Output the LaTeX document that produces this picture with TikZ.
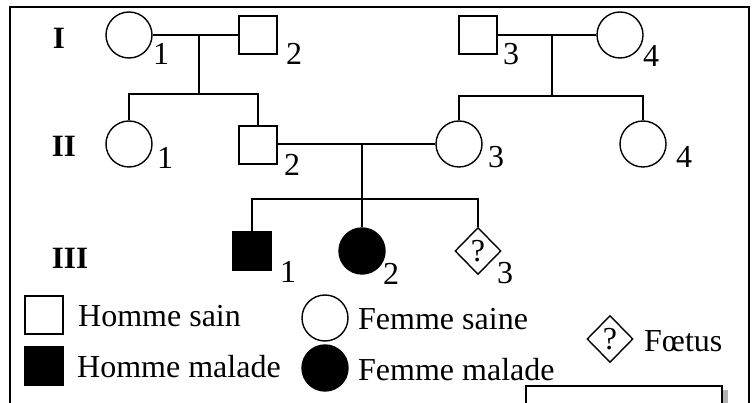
\documentclass[tikz,border=0pt]{standalone}
\usepackage{fontspec}
\setmainfont{Liberation Serif}
\usetikzlibrary{shapes.geometric}
\begin{document}
\begin{tikzpicture}[x=1pt,y=-1pt,
  lw/.style={line width=1.4pt},
  fem/.style={circle,draw,lw,minimum size=46pt,inner sep=0pt},
  mal/.style={rectangle,draw,lw,minimum size=38pt,inner sep=0pt},
  fetus/.style={diamond,draw,lw,minimum width=46pt,minimum height=47pt,inner sep=0pt,font=\fontsize{32}{34}\selectfont},
  aff/.style={fill=black},
  num/.style={inner sep=0pt,font=\fontsize{32}{34}\selectfont},
  gen/.style={inner sep=0pt,font=\fontsize{31}{33}\selectfont\bfseries},
  txt/.style={inner sep=0pt,anchor=west,font=\fontsize{32}{34}\selectfont},
  link/.style={lw}]
\useasboundingbox (0,0) rectangle (756,403);
% frame
\draw[line width=1.6pt] (10,412) -- (10,7) -- (749,7) -- (749,412);
\draw[line width=1.2pt] (526,412) -- (526,386) -- (722,386) -- (722,412);
\fill[gray!60] (722.6,390) rectangle (728,412);

% generation labels
\node[gen] (gI) at (59,38) {I};
\node[gen] (gII) at (64,146) {II};
\node[gen] (gIII) at (70,258) {III};

% generation I
\node[fem] (I1) at (129,35) {};
\node[mal] (I2) at (258,35) {};
\node[mal] (I3) at (478,35) {};
\node[fem] (I4) at (620,35) {};
\node[num] (nI1) at (161,54) {1};
\node[num] (nI2) at (294,54) {2};
\node[num] (nI3) at (511,54) {3};
\node[num] (nI4) at (651,56) {4};

% generation II
\node[fem] (II1) at (129,144) {};
\node[mal] (II2) at (258,145) {};
\node[fem] (II3) at (459,144) {};
\node[fem] (II4) at (643,144) {};
\node[num] (nII1) at (165,158) {1};
\node[num] (nII2) at (292,165) {2};
\node[num] (nII3) at (496,157) {3};
\node[num] (nII4) at (684,157) {4};

% generation III
\node[mal,aff,minimum size=39pt] (III1) at (252,251) {};
\node[fem,aff] (III2) at (362,251) {};
\node[fetus] (III3) at (478,251) {?};
\node[num] (nIII1) at (288,272) {1};
\node[num] (nIII2) at (391,274) {2};
\node[num] (nIII3) at (505,273) {3};

% family I1 x I2
\coordinate (m1) at (199,35);
\coordinate (s1) at (199,94);
\draw[link] (I1) -- (I2);
\draw[link] (m1) -- (s1);
\draw[link] (II1.north) |- (s1) -| (II2.north);

% family I3 x I4
\coordinate (m2) at (552,35);
\coordinate (s2) at (552,96);
\draw[link] (I3) -- (I4);
\draw[link] (m2) -- (s2);
\draw[link] (II3.north) |- (s2) -| (II4.north);

% family II2 x II3
\coordinate (m3) at (362,144);
\coordinate (s3) at (362,199);
\draw[link] (II2.east |- m3) -- (II3.west);
\draw[link] (m3) -- (s3);
\draw[link] (III1.north) |- (s3) -| (III3.north);
\draw[link] (s3) -- (III2.north);

% legend
\node[mal] (Lm) at (44,315) {};
\node[txt] (tLm) at (78,316) {Homme sain};
\node[mal,aff,minimum size=39pt] (La) at (44,366) {};
\node[txt] (tLa) at (77,367) {Homme malade};
\node[fem] (Lf) at (325,318) {};
\node[txt] (tLf) at (358,319) {Femme saine};
\node[fem,aff] (Lfa) at (325,368) {};
\node[txt] (tLfa) at (358,370) {Femme malade};
\node[fetus] (Lfe) at (610,339) {?};
\node[txt] (tLfe) at (644,341) {Fœtus};
\end{tikzpicture}
\end{document}
